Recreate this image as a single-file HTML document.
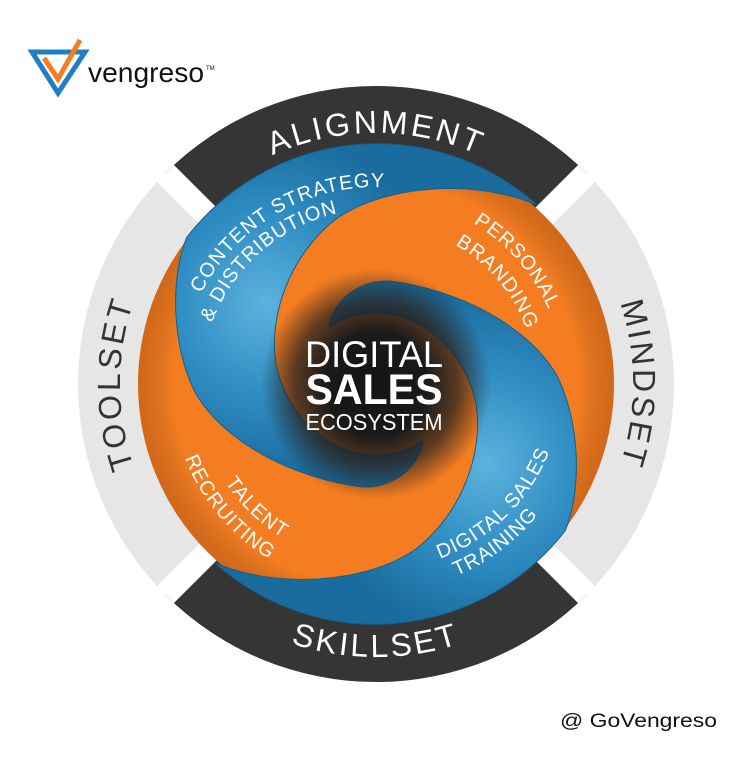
<!DOCTYPE html>
<html><head><meta charset="utf-8"><style>
html,body{margin:0;padding:0;background:#fff;}
svg{display:block;}
text{font-family:"Liberation Sans",sans-serif;}
</style></head><body>
<svg width="753" height="768" viewBox="0 0 753 768" xmlns="http://www.w3.org/2000/svg">
<defs>
  <clipPath id="outer"><circle cx="0" cy="0" r="298"/></clipPath>
  <radialGradient id="blueG" gradientUnits="userSpaceOnUse" cx="-110" cy="-80" r="170">
    <stop offset="0" stop-color="#5cb2dd"/>
    <stop offset="0.55" stop-color="#2e8cc2"/>
    <stop offset="1" stop-color="#1b6c9e"/>
  </radialGradient>
  <radialGradient id="orHi" gradientUnits="userSpaceOnUse" cx="0" cy="0" r="110">
    <stop offset="0" stop-color="#fdb07a" stop-opacity="0.9"/>
    <stop offset="1" stop-color="#f47d22" stop-opacity="0"/>
  </radialGradient>
  <radialGradient id="edge" gradientUnits="userSpaceOnUse" cx="0" cy="0" r="238">
    <stop offset="0.85" stop-color="#000" stop-opacity="0"/>
    <stop offset="1" stop-color="#6a2a00" stop-opacity="0.25"/>
  </radialGradient>
  <radialGradient id="core" gradientUnits="userSpaceOnUse" cx="0" cy="0" r="115">
    <stop offset="0" stop-color="#141414"/>
    <stop offset="0.45" stop-color="#1a1a1a"/>
    <stop offset="0.72" stop-color="#2a2420" stop-opacity="0.75"/>
    <stop offset="1" stop-color="#2a2420" stop-opacity="0"/>
  </radialGradient>
  <path id="pAlign" d="M -217.4 -125.5 A 251 251 0 0 1 217.4 -125.5"/>
  <path id="pSkill" d="M -236.4 136.5 A 273 273 0 0 0 236.4 136.5"/>
  <path id="pTool" d="M -128 221.7 A 256 256 0 0 1 -128 -221.7"/>
  <path id="pMind" d="M 128.5 -222.6 A 257 257 0 0 1 128.5 222.6"/>
  <path id="pCont" d="M -197 0 A 197 197 0 0 1 98.5 -170.6"/>
  <path id="pDist" d="M -171.8 33.4 A 175 175 0 0 1 57 -165.5"/>
  <path id="pPers" d="M -35.9 -184.5 A 188 188 0 0 1 177.8 61.2"/>
  <path id="pBrand" d="M -27.8 -157.6 A 160 160 0 0 1 150.4 54.7"/>
  <path id="pTal" d="M -174.7 -43.5 A 180 180 0 0 0 49.6 173"/>
  <path id="pRec" d="M -192.6 -70.1 A 205 205 0 0 0 35.6 201.9"/>
  <path id="pDig" d="M -49.7 179.2 A 186 186 0 0 0 180.1 -46.6"/>
  <path id="pTrain" d="M -81.3 191.5 A 208 208 0 0 0 206.4 -25.4"/>
  <path id="blueShape" d="M 161 -179 A 240 240 0 0 0 -189 -147 C -205 -110, -206 -40, -180 10 C -150 60, -80 95, -13 103 C 20 104, 45 80, 47 56 C 30 68, 10 72, -10 70 C -50 66, -90 30, -100 -20 C -108 -70, -85 -130, -40 -165 C 10 -200, 100 -205, 161 -179 Z"/>
</defs>

<!-- logo -->
<polygon points="32,52 85,52 58,93" fill="none" stroke="#1f7fc2" stroke-width="5" stroke-linejoin="miter"/>
<polyline points="44,58 58,79 80,40" fill="none" stroke="#f47d22" stroke-width="5"/>
<text x="88" y="82" font-size="28" fill="#111" textLength="116" lengthAdjust="spacingAndGlyphs">vengreso</text>
<text x="206" y="70" font-size="6" fill="#111">TM</text>

<g transform="translate(376,384)">
  <g clip-path="url(#outer)">
    <circle r="298" fill="#e6e6e6"/>
    <polygon points="0,0 -400,-400 400,-400" fill="#353535"/>
    <polygon points="0,0 -400,400 400,400" fill="#353535"/>
    <line x1="-400" y1="-400" x2="400" y2="400" stroke="#fff" stroke-width="24"/>
    <line x1="-400" y1="400" x2="400" y2="-400" stroke="#fff" stroke-width="24"/>
  </g>
  <text font-size="32" fill="#fff" letter-spacing="3"><textPath href="#pAlign" startOffset="50%" text-anchor="middle">ALIGNMENT</textPath></text>
  <text font-size="32" fill="#fff" letter-spacing="3"><textPath href="#pSkill" startOffset="50%" text-anchor="middle">SKILLSET</textPath></text>
  <text font-size="32" fill="#333" letter-spacing="3"><textPath href="#pTool" startOffset="50%" text-anchor="middle">TOOLSET</textPath></text>
  <text font-size="32" fill="#333" letter-spacing="3"><textPath href="#pMind" startOffset="50%" text-anchor="middle">MINDSET</textPath></text>

  <circle r="238" fill="#f47d22"/>
  <circle cx="130" cy="-90" r="110" fill="url(#orHi)"/>
  <circle cx="-130" cy="90" r="110" fill="url(#orHi)"/>
  <circle r="238" fill="url(#edge)"/>
  <use href="#blueShape" fill="url(#blueG)" stroke="#155f8c" stroke-width="1"/>
  <use href="#blueShape" fill="url(#blueG)" stroke="#155f8c" stroke-width="1" transform="rotate(180)"/>
  <circle r="115" fill="url(#core)"/>

  <g font-size="20" fill="#fff" letter-spacing="1">
    <text><textPath href="#pCont" startOffset="50%" text-anchor="middle">CONTENT STRATEGY</textPath></text>
    <text><textPath href="#pDist" startOffset="50%" text-anchor="middle">&amp; DISTRIBUTION</textPath></text>
    <text><textPath href="#pPers" startOffset="50%" text-anchor="middle">PERSONAL</textPath></text>
    <text><textPath href="#pBrand" startOffset="50%" text-anchor="middle">BRANDING</textPath></text>
    <text><textPath href="#pTal" startOffset="50%" text-anchor="middle">TALENT</textPath></text>
    <text><textPath href="#pRec" startOffset="50%" text-anchor="middle">RECRUITING</textPath></text>
    <text><textPath href="#pDig" startOffset="50%" text-anchor="middle">DIGITAL SALES</textPath></text>
    <text><textPath href="#pTrain" startOffset="50%" text-anchor="middle">TRAINING</textPath></text>
  </g>
</g>

<text x="374" y="367" font-size="37" fill="#fff" text-anchor="middle" textLength="138" lengthAdjust="spacingAndGlyphs">DIGITAL</text>
<text x="374" y="404" font-size="43" fill="#fff" text-anchor="middle" font-weight="bold" textLength="137" lengthAdjust="spacingAndGlyphs">SALES</text>
<text x="374" y="430" font-size="23" fill="#fff" text-anchor="middle" textLength="137" lengthAdjust="spacingAndGlyphs">ECOSYSTEM</text>

<text x="560" y="727" font-size="19" fill="#111" textLength="157" lengthAdjust="spacingAndGlyphs">@ GoVengreso</text>
</svg>
</body></html>
